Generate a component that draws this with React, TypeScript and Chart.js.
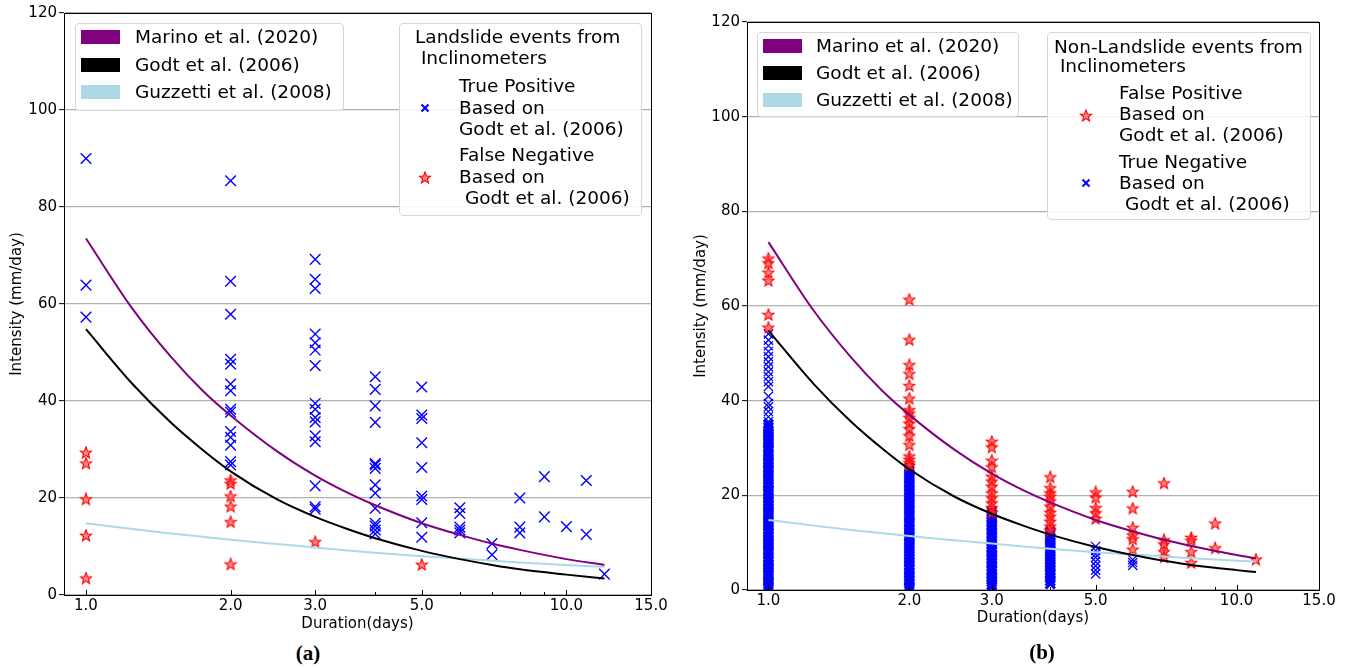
import React, { useEffect, useRef } from 'react';
import { Chart, registerables } from 'chart.js';

Chart.register(...registerables);

const FONT = "'DejaVu Sans', sans-serif";

// ---------- axes ----------
const xTickValues = [1, 2, 3, 5, 10, 15];
const xTickLabels = ['1.0', '2.0', '3.0', '5.0', '10.0', '15.0'];
const xMinorTicks = [4, 6, 7, 8, 9];
const yTickValues = [0, 20, 40, 60, 80, 100, 120];

// ---------- threshold curves ----------
const curveDaysA = [1, 1.25, 1.5, 1.75, 2, 2.5, 3, 3.5, 4, 5, 6, 7, 8, 10, 12];
const marinoA = [73.5, 59.0, 49.2, 42.1, 37.0, 29.6, 24.6, 21.1, 18.5, 14.8, 12.4, 10.6, 9.3, 7.4, 6.2];
const godtA = [54.8, 43.5, 35.6, 29.9, 25.5, 19.7, 16.1, 13.6, 11.7, 9.1, 7.4, 6.2, 5.3, 4.2, 3.4];
const guzzettiA = [14.8, 13.6, 12.7, 12.0, 11.4, 10.5, 9.8, 9.2, 8.7, 8.0, 7.5, 7.1, 6.7, 6.2, 5.8];

const curveDaysB = [1, 1.25, 1.5, 1.75, 2, 2.5, 3, 3.5, 4, 5, 6, 7, 8, 10, 11];
const marinoB = [73.5, 59.0, 49.2, 42.1, 37.0, 29.6, 24.6, 21.1, 18.5, 14.8, 12.4, 10.6, 9.3, 7.4, 6.7];
const godtB = [54.8, 43.5, 35.6, 29.9, 25.5, 19.7, 16.1, 13.6, 11.7, 9.1, 7.4, 6.2, 5.3, 4.2, 3.8];
const guzzettiB = [14.8, 13.6, 12.7, 12.0, 11.4, 10.5, 9.8, 9.2, 8.7, 8.0, 7.5, 7.1, 6.7, 6.2, 6.0];

// ---------- panel (a): landslide events ----------
const tpDaysA = [1, 2, 3, 4, 5, 6, 7, 8, 9, 10, 11, 12];
const truePositiveA = [
  [90.0, 63.9, 57.3],
  [85.4, 64.7, 57.9, 48.6, 47.6, 43.5, 42.1, 38.3, 37.7, 33.7, 32.5, 30.9, 27.5, 26.8],
  [69.2, 65.1, 63.2, 53.8, 52.0, 50.5, 47.3, 39.5, 38.3, 36.6, 35.7, 32.8, 31.6, 22.5, 18.2, 17.7],
  [45.0, 42.4, 39.0, 35.6, 27.1, 26.8, 26.1, 22.7, 21.0, 17.9, 14.8, 14.2, 13.4, 12.6],
  [42.9, 37.1, 36.4, 31.4, 26.3, 20.4, 19.7, 14.9, 11.9],
  [18.0, 16.8, 14.0, 13.4, 12.8],
  [10.6, 8.3],
  [20.0, 14.0, 12.8],
  [24.4, 16.1],
  [14.1],
  [23.6, 12.5],
  [4.3],
];
const fnDaysA = [1, 2, 3, 5];
const falseNegativeA = [
  [29.3, 27.1, 19.7, 12.2, 3.4],
  [23.6, 22.9, 20.3, 18.2, 15.0, 6.3],
  [10.9],
  [6.2],
];

// ---------- panel (b): non-landslide events ----------
const fpDaysB = [1, 2, 3, 4, 5, 6, 7, 8, 9, 11];
const falsePositiveB = [
  [70.0, 69.0, 67.0, 65.3, 58.1, 55.4],
  [61.3, 52.8, 47.5, 45.6, 43.1, 40.4, 38.0, 37.3, 36.3, 35.1, 34.0, 32.5, 30.6, 28.2, 27.5, 26.8, 26.2],
  [31.3, 30.1, 27.3, 25.9, 23.9, 22.9, 21.8, 20.4, 19.4, 18.3, 17.3, 16.3],
  [23.8, 21.5, 20.4, 19.7, 18.7, 17.6, 16.3, 15.5, 14.4, 13.4, 12.5],
  [20.6, 19.5, 17.3, 16.2, 15.0],
  [20.7, 17.2, 13.1, 11.5, 10.7, 8.5],
  [22.5, 10.5, 9.6, 8.0, 6.9],
  [11.0, 10.4, 8.0, 5.7],
  [14.0, 8.8],
  [6.4],
];
const tnDaysB = [1, 2, 3, 4, 5, 6];
const trueNegativeB = [
  [54.1, 52.8, 51.6, 50.4, 49.3, 48.2, 47.2, 46.1, 45.1, 44.0, 43.0, 40.9, 39.4, 38.7, 37.7, 36.6, 35.6,
    35.0, 34.4, 33.7, 33.1, 32.6, 31.9, 31.3, 30.8, 30.1, 29.5, 28.9, 28.4, 27.7, 27.1, 26.6, 25.9, 25.3,
    24.8, 24.2, 23.5, 22.9, 22.4, 21.8, 21.1, 20.6, 20.0, 19.4, 18.8, 18.2, 17.7, 17.0, 16.4, 15.9, 15.3,
    14.7, 14.1, 13.5, 12.9, 12.3, 11.8, 11.2, 10.5, 10.0, 9.4, 8.8, 8.2, 7.7, 7.0, 6.4, 5.9, 5.3, 4.7,
    4.1, 3.5, 3.0, 2.4, 1.8, 1.2, 0.7, 0.2],
  [25.8, 25.2, 24.6, 24.0, 23.5, 22.8, 22.3, 21.7, 21.1, 20.5, 19.9, 19.4, 18.7, 18.2, 17.6, 17.0, 16.4,
    15.8, 15.3, 14.6, 14.1, 13.5, 12.9, 12.3, 11.7, 11.2, 10.6, 10.0, 9.4, 8.8, 8.3, 7.6, 7.1, 6.5, 5.9,
    5.3, 4.7, 4.2, 3.6, 3.0, 2.4, 1.9, 1.3, 0.7, 0.2],
  [16.6, 16.0, 15.5, 14.9, 14.3, 13.7, 13.2, 12.6, 12.0, 11.4, 10.9, 10.3, 9.7, 9.1, 8.6, 8.0, 7.4, 6.8,
    6.3, 5.7, 5.1, 4.5, 4.0, 3.4, 2.8, 2.2, 1.7, 1.1, 0.6],
  [12.3, 11.7, 11.1, 10.6, 10.0, 9.4, 8.8, 8.3, 7.7, 7.1, 6.5, 5.9, 5.4, 4.8, 4.2, 3.6, 3.1, 2.5, 1.9, 1.3],
  [9.2, 8.3, 7.6, 6.9, 6.0, 5.1, 4.2, 3.4],
  [6.4, 5.8, 5.2],
];

const curveLabels = ['Marino et al. (2020)', 'Godt et al. (2006)', 'Guzzetti et al. (2008)'];
const curveColors = ['#800080', '#000000', '#add8e6'];

type Geo = { w: number; h: number; left: number; right: number; top: number; bottom: number; yTitlePad: number; xTitlePad: number };

const geoA: Geo = { w: 670, h: 640, left: 64, right: 651, top: 13, bottom: 595, yTitlePad: 8, xTitlePad: 7 };
const geoB: Geo = { w: 670, h: 640, left: 67, right: 639, top: 22, bottom: 590, yTitlePad: 12, xTitlePad: 13 };

function groupPoints(days: number[], groups: number[][]) {
  const pts: { x: number; y: number }[] = [];
  days.forEach((d, i) => groups[i].forEach((v) => pts.push({ x: d, y: v })));
  return pts;
}
function linePoints(days: number[], vals: number[]) {
  return days.map((d, i) => ({ x: d, y: vals[i] }));
}

function makeStar(size: number, ro: number, ri: number) {
  const c = document.createElement('canvas');
  c.width = size;
  c.height = size;
  const ctx = c.getContext('2d')!;
  ctx.beginPath();
  for (let i = 0; i < 10; i++) {
    const r = i % 2 === 0 ? ro : ri;
    const a = -Math.PI / 2 + (i * Math.PI) / 5;
    const px = size / 2 + r * Math.cos(a);
    const py = size / 2 + r * Math.sin(a);
    if (i === 0) ctx.moveTo(px, py);
    else ctx.lineTo(px, py);
  }
  ctx.closePath();
  ctx.fillStyle = 'rgba(255,70,70,0.65)';
  ctx.fill();
  ctx.lineWidth = 1.1;
  ctx.strokeStyle = '#ff0000';
  ctx.stroke();
  return c;
}

// Draws the full axes box and the inward x ticks (major and minor).
const framePlugin = {
  id: 'frame',
  afterDatasetsDraw(chart: any) {
    const { left, top, right, bottom } = chart.chartArea;
    const ctx = chart.ctx;
    const xs = chart.scales.x;
    ctx.save();
    ctx.strokeStyle = '#000';
    ctx.lineWidth = 1;
    ctx.strokeRect(Math.round(left) + 0.5, Math.round(top) + 0.5, Math.round(right - left), Math.round(bottom - top));
    ctx.beginPath();
    xTickValues.forEach((v) => {
      const px = Math.round(xs.getPixelForValue(v)) + 0.5;
      ctx.moveTo(px, bottom);
      ctx.lineTo(px, bottom - 5);
    });
    xMinorTicks.forEach((v) => {
      const px = Math.round(xs.getPixelForValue(v)) + 0.5;
      ctx.moveTo(px, bottom);
      ctx.lineTo(px, bottom - 3);
    });
    ctx.stroke();
    ctx.restore();
  },
};

function buildOptions(g: Geo): any {
  const tickFont = { family: FONT, size: 15 };
  return {
    responsive: false,
    animation: false,
    events: [],
    layout: { padding: { left: 0, top: g.top, right: g.w - g.right, bottom: 0 } },
    plugins: { legend: { display: false }, tooltip: { enabled: false } },
    scales: {
      x: {
        type: 'logarithmic',
        min: 0.9,
        max: 15,
        afterBuildTicks: (s: any) => {
          s.ticks = xTickValues.map((v) => ({ value: v }));
        },
        afterFit: (s: any) => {
          s.height = g.h - g.bottom;
        },
        ticks: {
          autoSkip: false,
          maxRotation: 0,
          minRotation: 0,
          padding: 2,
          color: '#000',
          font: tickFont,
          callback: (_v: any, i: number) => xTickLabels[i],
        },
        grid: { drawOnChartArea: false, drawTicks: false },
        border: { display: true, color: '#000', width: 1 },
        title: { display: true, text: 'Duration(days)', color: '#000', font: tickFont, padding: { top: 0, bottom: g.xTitlePad } },
      },
      y: {
        type: 'linear',
        min: 0,
        max: 120,
        afterBuildTicks: (s: any) => {
          s.ticks = yTickValues.map((v) => ({ value: v }));
        },
        afterFit: (s: any) => {
          s.width = g.left;
        },
        ticks: { padding: 2, color: '#000', font: tickFont, callback: (v: any) => String(v) },
        grid: { drawOnChartArea: true, color: '#b0b0b0', lineWidth: 1.3, tickLength: 5, tickColor: '#000', tickWidth: 1 },
        border: { display: true, color: '#000', width: 1 },
        title: { display: true, text: 'Intensity (mm/day)', color: '#000', font: tickFont, padding: { top: g.yTitlePad, bottom: 0 } },
      },
    },
  };
}

function lineDatasets(days: number[], series: number[][]) {
  return series.map((vals, i) => ({
    label: curveLabels[i],
    data: linePoints(days, vals),
    showLine: true,
    borderColor: curveColors[i],
    backgroundColor: curveColors[i],
    borderWidth: 2,
    pointRadius: 0,
    cubicInterpolationMode: 'monotone',
  }));
}

function PanelChart({ which }: { which: 'a' | 'b' }) {
  const ref = useRef<HTMLCanvasElement>(null);
  useEffect(() => {
    if (!ref.current) return;
    const star = makeStar(14, 6, 2.5);
    const g = which === 'a' ? geoA : geoB;
    let datasets: any[];
    if (which === 'a') {
      datasets = [
        ...lineDatasets(curveDaysA, [marinoA, godtA, guzzettiA]),
        {
          label: 'False Negative',
          data: groupPoints(fnDaysA, falseNegativeA),
          pointStyle: star,
          pointRadius: 6,
        },
        {
          label: 'True Positive',
          data: groupPoints(tpDaysA, truePositiveA),
          pointStyle: 'crossRot',
          pointRadius: 7.5,
          pointBorderColor: '#0000ff',
          pointBorderWidth: 1.4,
          borderColor: '#0000ff',
        },
      ];
    } else {
      datasets = [
        ...lineDatasets(curveDaysB, [marinoB, godtB, guzzettiB]),
        {
          label: 'False Positive',
          data: groupPoints(fpDaysB, falsePositiveB),
          pointStyle: star,
          pointRadius: 6,
        },
        {
          label: 'True Negative',
          data: groupPoints(tnDaysB, trueNegativeB),
          pointStyle: 'crossRot',
          pointRadius: 6.5,
          pointBorderColor: '#0000ff',
          // the densely packed lower parts of the columns render as solid bands
          pointBorderWidth: (c: any) => (c.raw && (c.raw.y > 35.3 || c.raw.x >= 5) ? 1.3 : 3),
          borderColor: '#0000ff',
        },
      ];
    }
    const chart = new Chart(ref.current, {
      type: 'scatter',
      data: { datasets },
      options: buildOptions(g),
      plugins: [framePlugin],
    } as any);
    return () => chart.destroy();
  }, [which]);
  const g = which === 'a' ? geoA : geoB;
  return <canvas ref={ref} width={g.w} height={g.h} style={{ width: g.w, height: g.h, display: 'block' }} />;
}

const LEG_FS = 18.5;

function Txt({ x, y, children }: { x: number; y: number; children: string }) {
  return (
    <div
      style={{
        position: 'absolute',
        left: x,
        top: y - 11,
        lineHeight: '22px',
        height: 22,
        fontSize: LEG_FS,
        fontFamily: FONT,
        whiteSpace: 'pre',
        color: '#000',
      }}
    >
      {children}
    </div>
  );
}

function Box({ x, y, w, h }: { x: number; y: number; w: number; h: number }) {
  return (
    <div
      style={{
        position: 'absolute',
        left: x,
        top: y,
        width: w,
        height: h,
        boxSizing: 'border-box',
        border: '1px solid #d6d6d6',
        borderRadius: 4,
        background: 'rgba(255,255,255,0.85)',
      }}
    />
  );
}

function Patch({ x, y, color }: { x: number; y: number; color: string }) {
  return <div style={{ position: 'absolute', left: x, top: y - 7, width: 39, height: 14, background: color }} />;
}

function XMark({ x, y }: { x: number; y: number }) {
  return (
    <svg style={{ position: 'absolute', left: x - 5, top: y - 5 }} width={10} height={10}>
      <path d="M1.5 1.5 L8.5 8.5 M8.5 1.5 L1.5 8.5" stroke="#0000ff" strokeWidth={2} />
    </svg>
  );
}

function StarMark({ x, y }: { x: number; y: number }) {
  const pts: string[] = [];
  for (let i = 0; i < 10; i++) {
    const r = i % 2 === 0 ? 6 : 2.5;
    const a = -Math.PI / 2 + (i * Math.PI) / 5;
    pts.push(`${(7 + r * Math.cos(a)).toFixed(2)},${(7 + r * Math.sin(a)).toFixed(2)}`);
  }
  return (
    <svg style={{ position: 'absolute', left: x - 7, top: y - 7 }} width={14} height={14}>
      <polygon points={pts.join(' ')} fill="rgba(255,70,70,0.65)" stroke="#ff0000" strokeWidth={1.1} />
    </svg>
  );
}

function Caption({ x, y, text }: { x: number; y: number; text: string }) {
  return (
    <div
      style={{
        position: 'absolute',
        left: x - 30,
        width: 60,
        top: y - 13,
        lineHeight: '26px',
        textAlign: 'center',
        fontFamily: "'Liberation Serif', 'Times New Roman', serif",
        fontWeight: 'bold',
        fontSize: 21,
        color: '#000',
      }}
    >
      {text}
    </div>
  );
}

export default function App() {
  return (
    <div style={{ position: 'absolute', left: 0, top: 0, width: 1350, height: 668, background: '#fff', overflow: 'hidden' }}>
      <div style={{ position: 'absolute', left: 0, top: 0 }}>
        <PanelChart which="a" />
      </div>
      <div style={{ position: 'absolute', left: 680, top: 0 }}>
        <PanelChart which="b" />
      </div>

      {/* Panel (a) legends */}
      <Box x={75} y={23} w={269} h={88} />
      <Patch x={81} y={37} color={curveColors[0]} />
      <Patch x={81} y={65} color={curveColors[1]} />
      <Patch x={81} y={92} color={curveColors[2]} />
      <Txt x={135} y={37}>{curveLabels[0]}</Txt>
      <Txt x={135} y={65}>{curveLabels[1]}</Txt>
      <Txt x={135} y={92}>{curveLabels[2]}</Txt>

      <Box x={399} y={23} w={243} h={193} />
      <Txt x={415} y={37}>{'Landslide events from'}</Txt>
      <Txt x={415} y={58}>{' Inclinometers'}</Txt>
      <XMark x={425} y={108} />
      <Txt x={459} y={86}>{'True Positive'}</Txt>
      <Txt x={459} y={108}>{'Based on'}</Txt>
      <Txt x={459} y={129}>{'Godt et al. (2006)'}</Txt>
      <StarMark x={425} y={178} />
      <Txt x={459} y={155}>{'False Negative'}</Txt>
      <Txt x={459} y={177}>{'Based on'}</Txt>
      <Txt x={459} y={198}>{' Godt et al. (2006)'}</Txt>

      {/* Panel (b) legends */}
      <Box x={757} y={32} w={262} h={85} />
      <Patch x={763} y={46} color={curveColors[0]} />
      <Patch x={763} y={73} color={curveColors[1]} />
      <Patch x={763} y={100} color={curveColors[2]} />
      <Txt x={816} y={46}>{curveLabels[0]}</Txt>
      <Txt x={816} y={73}>{curveLabels[1]}</Txt>
      <Txt x={816} y={100}>{curveLabels[2]}</Txt>

      <Box x={1047} y={32} w={264} h={188} />
      <Txt x={1054} y={47}>{'Non-Landslide events from'}</Txt>
      <Txt x={1054} y={66}>{' Inclinometers'}</Txt>
      <StarMark x={1086} y={116} />
      <Txt x={1119} y={93}>{'False Positive'}</Txt>
      <Txt x={1119} y={114}>{'Based on'}</Txt>
      <Txt x={1119} y={135}>{'Godt et al. (2006)'}</Txt>
      <XMark x={1086} y={183} />
      <Txt x={1119} y={162}>{'True Negative'}</Txt>
      <Txt x={1119} y={183}>{'Based on'}</Txt>
      <Txt x={1119} y={204}>{' Godt et al. (2006)'}</Txt>

      <Caption x={308} y={653} text="(a)" />
      <Caption x={1042} y={652} text="(b)" />
    </div>
  );
}
